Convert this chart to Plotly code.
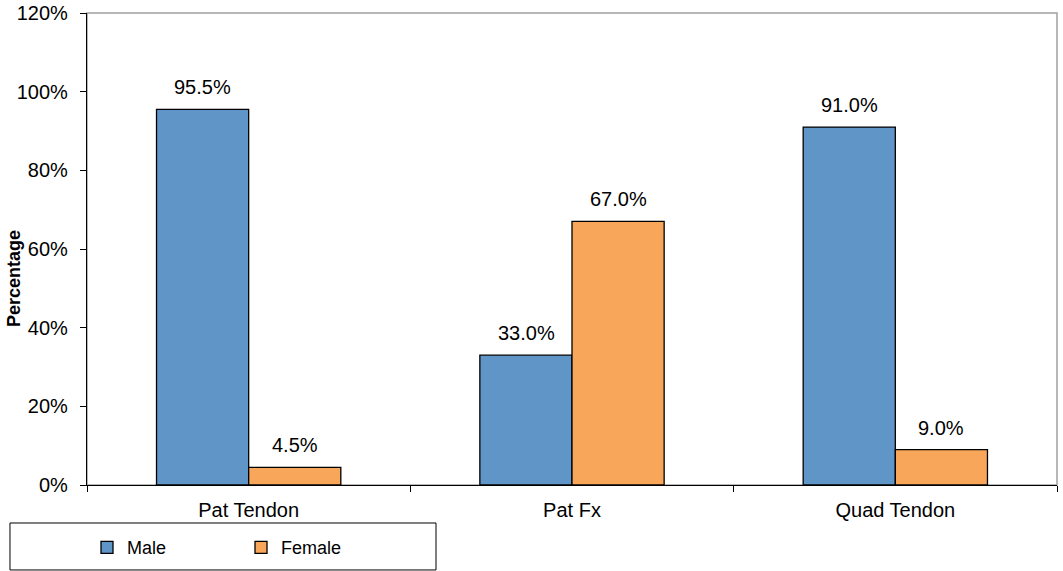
import plotly.graph_objects as go

categories = ["Pat Tendon", "Pat Fx", "Quad Tendon"]
male = [95.5, 33.0, 91.0]
female = [4.5, 67.0, 9.0]
y_ticks = [0, 20, 40, 60, 80, 100, 120]
y_tick_labels = ["0%", "20%", "40%", "60%", "80%", "100%", "120%"]

FONT = "Liberation Sans, Arial, sans-serif"
MALE_C = "#6096C7"
FEMALE_C = "#F8A65A"

fig = go.Figure()
fig.add_trace(go.Bar(name="Male", x=categories, y=male,
                     marker=dict(color=MALE_C, line=dict(color="black", width=1.3))))
fig.add_trace(go.Bar(name="Female", x=categories, y=female,
                     marker=dict(color=FEMALE_C, line=dict(color="black", width=1.3))))

annotations = []
for cat, m, f in zip(categories, male, female):
    annotations.append(dict(x=cat, y=m, text=f"{m:.1f}%", xref="x", yref="y",
                            showarrow=False, xshift=-46, yshift=9, yanchor="bottom",
                            font=dict(family=FONT, size=20, color="black")))
    annotations.append(dict(x=cat, y=f, text=f"{f:.1f}%", xref="x", yref="y",
                            showarrow=False, xshift=46, yshift=9, yanchor="bottom",
                            font=dict(family=FONT, size=20, color="black")))

annotations.append(dict(text="<b>Percentage</b>", xref="paper", yref="paper",
                        x=-0.0753, y=0.4386, xanchor="center", yanchor="middle",
                        textangle=-90, showarrow=False,
                        font=dict(family=FONT, size=18, color="black")))

fig.update_layout(
    width=1063, height=571,
    margin=dict(l=87, r=6, t=13, b=86, autoexpand=False),
    paper_bgcolor="white", plot_bgcolor="white",
    barmode="group", bargap=0.43, bargroupgap=0,
    font=dict(family=FONT, size=20, color="black"),
    annotations=annotations,
    showlegend=True,
    legend=dict(orientation="h", x=0.0, y=-0.0935, xanchor="left", yanchor="top",
                xref="paper", yref="paper",
                font=dict(family=FONT, size=18, color="black"),
                entrywidth=109, itemwidth=30, bgcolor="rgba(0,0,0,0)",
                traceorder="normal"),
    shapes=[
        dict(type="rect", xref="paper", yref="paper",
             x0=-0.0794, x1=0.3598, y0=-0.180, y1=-0.0805,
             line=dict(color="black", width=1), fillcolor="rgba(0,0,0,0)", layer="below"),
        dict(type="rect", xref="paper", yref="paper", x0=0, x1=1, y0=0, y1=1,
             line=dict(color="#A0A0A0", width=1.5), fillcolor="rgba(0,0,0,0)", layer="below"),
    ],
)
fig.update_xaxes(showline=True, linecolor="black", linewidth=1.3, mirror=False,
                 ticks="outside", tickson="boundaries", ticklen=6, tickcolor="black",
                 showgrid=False, automargin=False, ticklabelstandoff=7,
                 tickfont=dict(family=FONT, size=20))
fig.update_yaxes(range=[0, 120], tickvals=y_ticks, ticktext=y_tick_labels,
                 showline=True, linecolor="black", linewidth=1.3,
                 ticks="outside", ticklen=6, tickcolor="black", showgrid=False,
                 zeroline=False, automargin=False, ticklabelstandoff=8,
                 tickfont=dict(family=FONT, size=20))

fig.write_html("out.html")
